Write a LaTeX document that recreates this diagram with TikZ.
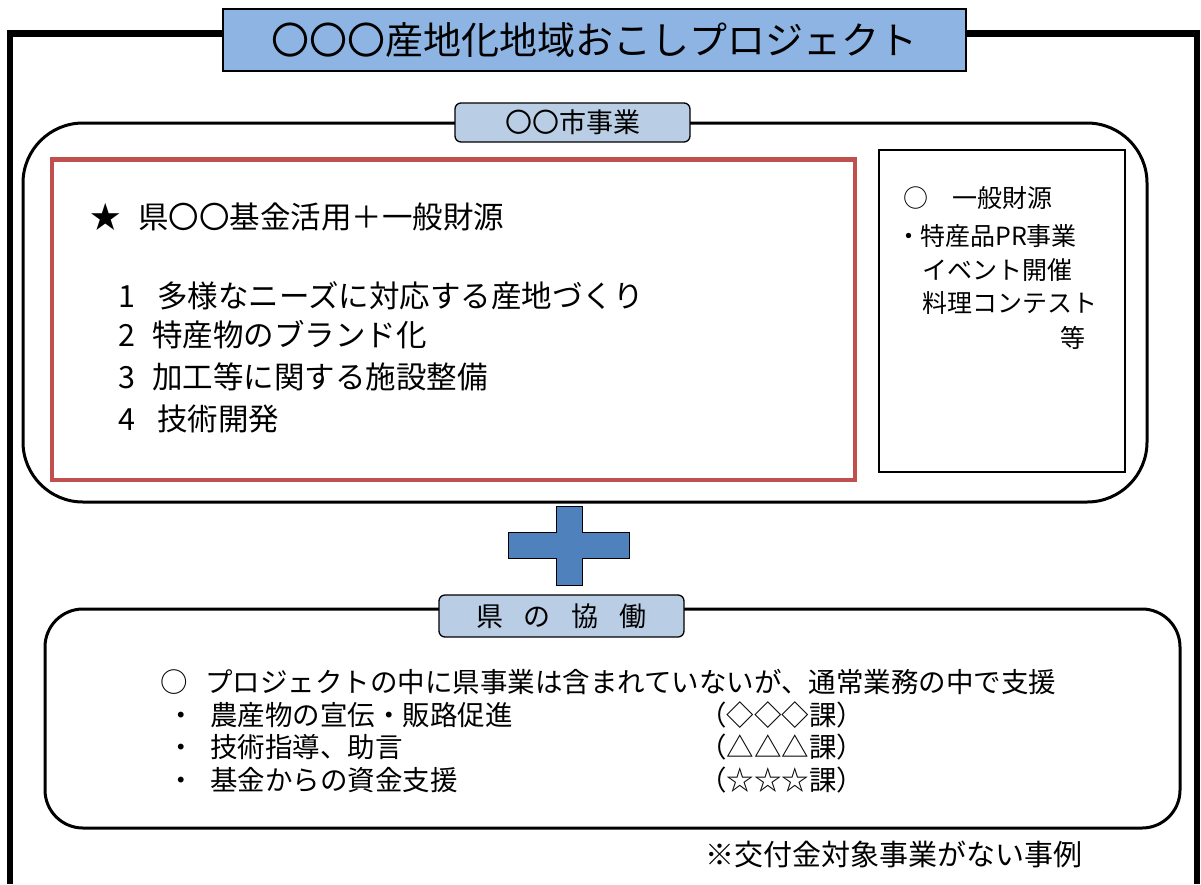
\documentclass[tikz,border=0pt]{standalone}
\usepackage{fontspec}
\setmainfont{Noto Sans CJK JP}
\definecolor{titleblue}{HTML}{8DB4E2}
\definecolor{labelblue}{HTML}{B9CDE5}
\definecolor{boxred}{HTML}{C0504D}
\definecolor{plusblue}{HTML}{4F81BD}
\newcommand{\fs}[1]{\fontsize{#1}{#1}\selectfont}
\begin{document}
\begin{tikzpicture}[x=1pt,y=-1pt,
  frameline/.style={line width=6.5pt,line join=miter},
  section/.style={draw,line width=3pt,rounded corners=#1},
  titlebox/.style={draw,line width=1.5pt,fill=titleblue,inner sep=0pt,minimum width=743pt,minimum height=62pt,font=\fs{38}},
  labelbox/.style={draw,line width=1.3pt,fill=labelblue,rounded corners=6pt,inner sep=0pt,font=\fs{27}},
  txt/.style={anchor=west,inner sep=0pt},
  redtxt/.style={txt,font=\fs{30.5},text height=26.2pt,text depth=4.3pt},
  sidetxt/.style={txt,font=\fs{25},text height=21.5pt,text depth=3.5pt},
  lowtxt/.style={txt,font=\fs{27.5},text height=23.6pt,text depth=3.9pt},
  notetxt/.style={txt,font=\fs{29},text height=24.9pt,text depth=4.1pt}]
\useasboundingbox (0,0) rectangle (1201,884);
% outer frame
\draw[frameline] (10,884) -- (10,33.5) -- (1197,33.5) -- (1197,884);
% title
\node[titlebox] (title) at (594.5,40) {〇〇〇産地化地域おこしプロジェクト};
% city section
\draw[section=60pt] (23,123) rectangle (1147,502);
\node[labelbox,minimum width=235pt,minimum height=39pt] (citylabel) at (572.5,122.5) {〇〇市事業};
\draw[boxred,line width=4.5pt] (52,159.5) rectangle (855,480);
\draw[line width=1.2pt] (879,150) rectangle (1125,472);
% red box texts
\node[redtxt] (star) at (90,218) {★};
\node[redtxt] (fund) at (138,218) {県〇〇基金活用＋一般財源};
\node[redtxt] (n1) at (118,297) {1};
\node[redtxt] (t1) at (157,297) {多様なニーズに対応する産地づくり};
\node[redtxt] (n2) at (118,336) {2};
\node[redtxt] (t2) at (152,336) {特産物のブランド化};
\node[redtxt] (n3) at (118,378) {3};
\node[redtxt] (t3) at (152,378) {加工等に関する施設整備};
\node[redtxt] (n4) at (118,420) {4};
\node[redtxt] (t4) at (157,420) {技術開発};
% side box texts
\node[sidetxt] (s0) at (903,198) {○};
\node[sidetxt] (s1) at (952,198) {一般財源};
\node[sidetxt] (s2) at (896,236) {・};
\node[sidetxt] (s2t) at (920,236) {特産品PR事業};
\node[sidetxt] (s3) at (922,270) {イベント開催};
\node[sidetxt] (s4) at (922,303) {料理コンテスト};
\node[sidetxt] (s5) at (1060,338) {等};
% plus sign
\filldraw[fill=plusblue,draw=black,line width=0.9pt]
  (556,506) -- (582,506) -- (582,532) -- (629,532) -- (629,558) -- (582,558)
  -- (582,585) -- (556,585) -- (556,558) -- (508,558) -- (508,532) -- (556,532) -- cycle;
% prefecture section
\draw[section=38pt] (45,609) rectangle (1180,828);
\node[labelbox,minimum width=245pt,minimum height=42pt] (preflabel) at (561.5,616) {県\hspace{21pt}の\hspace{21pt}協\hspace{21pt}働};
\node[lowtxt] (b0) at (160,683) {○};
\node[lowtxt] (b0t) at (205,683) {プロジェクトの中に県事業は含まれていないが、通常業務の中で支援};
\node[lowtxt] (b1) at (167,716) {・};
\node[lowtxt] (b1t) at (210,716) {農産物の宣伝・販路促進};
\node[lowtxt] (b1c) at (699,716) {（◇◇◇課）};
\node[lowtxt] (b2) at (167,748) {・};
\node[lowtxt] (b2t) at (210,748) {技術指導、助言};
\node[lowtxt] (b2c) at (699,748) {（△△△課）};
\node[lowtxt] (b3) at (167,781) {・};
\node[lowtxt] (b3t) at (210,781) {基金からの資金支援};
\node[lowtxt] (b3c) at (699,781) {（☆☆☆課）};
% footnote
\node[notetxt] (note) at (705,855) {※交付金対象事業がない事例};
\end{tikzpicture}
\end{document}
